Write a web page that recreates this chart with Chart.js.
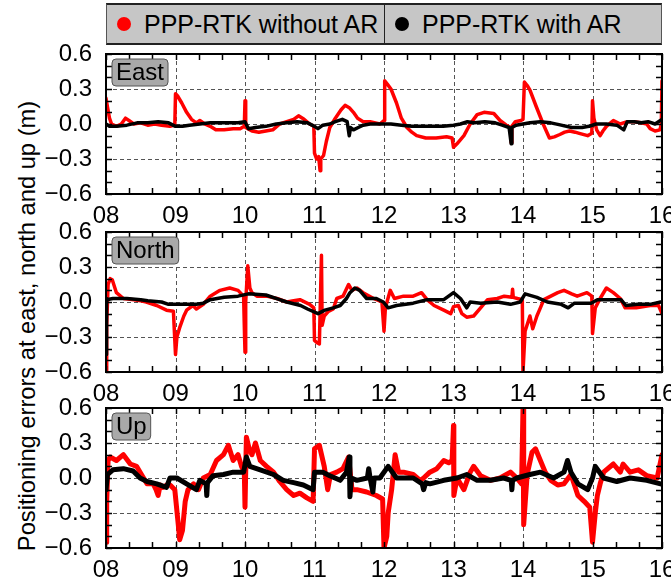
<!DOCTYPE html>
<html>
<head>
<meta charset="utf-8">
<script src="https://cdn.jsdelivr.net/npm/chart.js@4.4.1/dist/chart.umd.min.js"></script>
<style>
  body { margin: 0; width: 671px; height: 585px; overflow: hidden; position: relative; background: #fff;
         font-family: 'Liberation Sans', Arial, sans-serif; color: #000; }
  canvas { position: absolute; left: 0; }
  #legend { position: absolute; left: 106px; top: 3px; width: 556px; height: 42px; box-sizing: border-box;
            background: #c6c6c6; border: 1px solid #555; border-top: 2px solid #222; border-bottom: 2px solid #222;
            display: flex; font-size: 25px; }
  #legend .cell { display: flex; align-items: center; height: 100%; }
  #legend .first { width: 277px; border-right: 1.5px solid #222; }
  #legend .dot { display: inline-block; width: 14px; height: 14px; border-radius: 50%; margin: 0 13px 0 10px; }
  #ytitle { position: absolute; left: 27px; top: 326px; transform: translate(-50%, -50%) rotate(-90deg);
            white-space: nowrap; font-size: 23.7px; }
</style>
</head>
<body>
<div id="legend">
  <div class="cell first"><span class="dot" style="background:#ff0000"></span>PPP-RTK without AR</div>
  <div class="cell"><span class="dot" style="background:#000"></span>PPP-RTK with AR</div>
</div>
<div id="ytitle">Positioning errors at east, north and up (m)</div>
<canvas id="east" width="671" height="190" style="top:44px"></canvas>
<canvas id="north" width="671" height="190" style="top:220px"></canvas>
<canvas id="up" width="671" height="189" style="top:396px"></canvas>
<script>
// hours of day (x) and positioning error in metres (y)
const hourTicks = [8, 9, 10, 11, 12, 13, 14, 15, 16];
const errTicks = [-0.6, -0.3, 0.0, 0.3, 0.6];

const eastRed = [[8.00,0.22],[8.02,0.15],[8.05,0.05],[8.08,0.0],[8.15,-0.02],[8.22,0.0],[8.28,0.05],[8.33,0.03],[8.40,0.0],[8.50,0.01],[8.60,-0.01],[8.70,0.0],[8.80,-0.01],[8.92,-0.02],[8.99,-0.01],
  [9.00,0.26],[9.03,0.24],[9.09,0.18],[9.16,0.10],[9.23,0.04],[9.30,0.01],[9.35,0.03],[9.42,0.0],[9.50,-0.02],[9.58,-0.05],[9.70,-0.05],[9.83,-0.04],[9.93,-0.04],[9.99,-0.02],
  [10.00,0.20],[10.01,-0.03],[10.10,-0.06],[10.20,-0.07],[10.30,-0.06],[10.40,-0.05],[10.50,0.0],[10.60,0.02],[10.70,0.04],[10.77,0.07],[10.85,0.04],[10.93,0.0],[10.99,-0.02],
  [11.00,-0.25],[11.03,-0.30],[11.06,-0.28],[11.08,-0.40],[11.09,-0.30],[11.13,-0.27],[11.17,-0.15],[11.22,-0.03],[11.30,0.05],[11.38,0.12],[11.44,0.16],[11.50,0.14],[11.56,0.10],[11.62,0.05],[11.70,0.02],[11.80,0.02],[11.94,0.0],
  [12.00,0.03],[12.01,0.37],[12.05,0.34],[12.10,0.30],[12.18,0.18],[12.25,0.05],[12.33,-0.03],[12.40,-0.07],[12.47,-0.10],[12.60,-0.12],[12.75,-0.12],[12.90,-0.11],[12.98,-0.12],
  [13.00,-0.20],[13.05,-0.17],[13.15,-0.10],[13.24,0.0],[13.34,0.08],[13.44,0.10],[13.58,0.09],[13.67,0.03],[13.76,-0.01],[13.82,-0.03],[13.83,-0.16],[13.84,-0.02],[13.89,0.02],[13.97,0.03],
  [14.00,0.04],[14.02,0.36],[14.06,0.33],[14.10,0.29],[14.19,0.15],[14.29,0.0],[14.38,-0.12],[14.45,-0.11],[14.53,-0.09],[14.60,-0.07],[14.67,-0.06],[14.75,-0.07],[14.81,-0.08],[14.93,-0.10],[14.99,-0.08],
  [15.00,0.20],[15.02,0.05],[15.06,-0.05],[15.11,-0.10],[15.15,-0.06],[15.20,-0.02],[15.30,0.03],[15.40,0.0],[15.50,0.02],[15.60,0.02],[15.70,0.01],[15.78,0.0],[15.83,-0.04],[15.90,-0.06],[15.97,-0.05],[15.99,0.0],[16.00,0.37]];

const eastBlack = [[8.00,0.0],[8.05,-0.02],[8.15,-0.02],[8.30,-0.01],[8.45,0.01],[8.60,0.01],[8.75,0.02],[8.90,0.01],[9.00,-0.02],[9.10,-0.02],[9.20,-0.01],[9.35,0.0],[9.50,0.01],[9.70,0.01],[9.90,0.01],
  [10.00,0.02],[10.05,-0.04],[10.15,-0.03],[10.30,-0.02],[10.45,0.0],[10.60,0.01],[10.75,0.02],[10.90,0.01],[11.00,-0.02],[11.05,-0.04],[11.12,-0.01],[11.22,0.0],[11.30,0.02],[11.40,0.04],[11.47,0.02],
  [11.50,-0.10],[11.52,-0.03],[11.56,-0.05],[11.63,-0.03],[11.70,-0.01],[11.80,0.0],[11.95,0.0],[12.10,0.0],[12.25,-0.01],[12.40,-0.02],[12.55,-0.02],[12.70,-0.02],[12.85,-0.02],
  [13.00,-0.01],[13.10,0.0],[13.20,0.02],[13.30,0.01],[13.45,0.02],[13.60,0.01],[13.70,-0.01],[13.80,-0.03],[13.83,-0.17],[13.84,-0.03],[13.90,-0.01],
  [14.00,0.0],[14.10,0.01],[14.25,0.02],[14.40,0.01],[14.55,-0.01],[14.70,-0.03],[14.85,-0.03],[14.95,-0.02],[15.05,0.0],[15.20,0.0],[15.35,-0.01],[15.45,-0.05],
  [15.50,0.02],[15.60,0.02],[15.70,0.01],[15.80,0.02],[15.90,0.0],[16.00,0.04]];

const northRed = [[8.00,-0.60],[8.01,-0.20],[8.03,0.15],[8.06,0.20],[8.09,0.19],[8.15,0.08],[8.25,0.03],[8.40,0.02],[8.50,0.01],[8.58,0.0],[8.73,-0.03],[8.87,-0.07],[8.97,-0.08],
  [9.00,-0.45],[9.02,-0.30],[9.06,-0.22],[9.12,-0.12],[9.16,-0.07],[9.25,-0.03],[9.30,-0.06],[9.40,-0.02],[9.50,0.05],[9.64,0.10],[9.78,0.12],[9.90,0.10],[9.98,0.05],
  [9.995,-0.32],[10.00,-0.43],[10.01,0.0],[10.04,0.31],[10.07,0.12],[10.10,0.08],[10.17,0.05],[10.31,0.05],[10.46,0.03],[10.60,0.0],[10.70,0.01],[10.79,0.02],[10.93,-0.02],[10.99,-0.05],
  [11.00,-0.33],[11.04,-0.35],[11.07,-0.36],[11.10,0.40],[11.11,-0.20],[11.14,-0.12],[11.20,-0.08],[11.27,-0.06],[11.32,0.03],[11.41,0.05],[11.49,0.15],[11.54,0.10],[11.61,0.12],[11.70,0.08],[11.85,0.03],[11.97,0.0],
  [12.00,-0.25],[12.02,-0.05],[12.09,0.10],[12.15,0.03],[12.28,0.05],[12.42,0.05],[12.54,0.08],[12.62,0.02],[12.72,-0.03],[12.86,-0.07],[12.96,-0.10],
  [13.00,-0.04],[13.07,-0.03],[13.12,-0.10],[13.19,-0.13],[13.29,-0.12],[13.39,-0.05],[13.49,0.02],[13.63,0.03],[13.73,0.05],[13.84,0.04],[13.85,0.11],[13.86,0.04],[13.92,0.03],[13.99,0.02],
  [14.00,-0.60],[14.03,-0.25],[14.10,-0.12],[14.14,-0.23],[14.20,-0.12],[14.25,-0.05],[14.30,0.02],[14.40,0.05],[14.50,0.08],[14.59,0.10],[14.70,0.07],[14.78,0.05],[14.92,0.08],[14.99,0.05],
  [15.00,-0.27],[15.04,-0.05],[15.11,0.03],[15.20,0.12],[15.30,0.08],[15.40,0.03],[15.47,-0.05],[15.63,-0.05],[15.83,-0.03],[15.95,-0.03],[16.00,-0.10]];

const northBlack = [[8.00,0.03],[8.005,-0.45],[8.01,0.02],[8.10,0.03],[8.30,0.03],[8.50,0.02],[8.60,0.01],[8.80,0.0],[8.90,-0.02],[9.10,-0.02],[9.30,-0.02],[9.40,-0.01],[9.50,0.02],[9.70,0.04],[9.90,0.05],
  [10.05,0.07],[10.30,0.06],[10.50,0.02],[10.60,0.0],[10.80,-0.03],[10.90,-0.06],[11.05,-0.10],[11.15,-0.07],[11.27,-0.05],[11.37,-0.03],[11.46,0.03],[11.51,0.08],[11.58,0.12],[11.65,0.10],[11.75,0.03],[11.89,0.03],[11.99,0.0],
  [12.06,-0.05],[12.18,-0.03],[12.42,-0.01],[12.62,0.02],[12.86,0.02],[13.00,0.08],[13.10,0.03],[13.19,-0.05],[13.24,0.0],[13.39,-0.01],[13.63,0.0],[13.82,-0.02],[13.96,0.0],
  [14.03,0.07],[14.20,0.04],[14.35,0.0],[14.55,-0.02],[14.65,-0.05],[14.74,-0.01],[14.98,-0.01],[15.07,0.02],[15.27,0.02],[15.41,0.02],[15.48,-0.03],[15.65,-0.02],[15.83,-0.02],[15.98,0.0]];

const upRed = [[8.00,-0.55],[8.01,-0.20],[8.03,0.15],[8.06,0.18],[8.15,0.15],[8.25,0.20],[8.35,0.12],[8.44,0.10],[8.51,0.03],[8.59,-0.05],[8.68,-0.05],[8.72,-0.10],[8.75,-0.15],[8.78,-0.06],[8.82,-0.08],[8.90,-0.05],[8.94,-0.07],[8.99,-0.10],
  [9.04,-0.40],[9.06,-0.53],[9.10,-0.45],[9.14,-0.20],[9.18,-0.10],[9.26,-0.05],[9.33,-0.10],[9.40,0.0],[9.50,0.03],[9.59,0.15],[9.69,0.20],[9.76,0.28],[9.83,0.15],[9.90,0.20],[9.95,0.10],[9.99,0.05],
  [10.00,-0.25],[10.02,0.35],[10.06,0.25],[10.10,0.20],[10.15,0.30],[10.22,0.15],[10.31,0.10],[10.41,0.05],[10.50,-0.03],[10.60,-0.10],[10.70,-0.15],[10.79,-0.13],[10.89,-0.17],[10.98,-0.20],
  [11.00,0.25],[11.07,0.28],[11.14,0.10],[11.19,-0.10],[11.23,0.03],[11.32,0.05],[11.41,0.08],[11.49,0.18],[11.54,-0.10],[11.61,-0.10],[11.75,-0.12],[11.89,-0.15],[11.98,-0.18],
  [12.00,-0.60],[12.04,-0.50],[12.06,-0.30],[12.11,-0.10],[12.16,0.20],[12.21,0.05],[12.28,0.05],[12.42,0.03],[12.52,-0.02],[12.57,0.0],[12.66,0.05],[12.76,0.08],[12.86,0.15],[12.93,0.13],[12.98,0.15],
  [13.00,0.45],[13.005,-0.15],[13.05,0.0],[13.15,-0.10],[13.24,0.05],[13.29,0.10],[13.39,0.02],[13.53,-0.02],[13.67,0.0],[13.82,0.05],[13.91,0.0],[13.98,-0.05],
  [14.00,0.60],[14.01,-0.40],[14.06,0.03],[14.13,0.22],[14.18,0.25],[14.25,0.15],[14.32,0.05],[14.40,-0.02],[14.50,-0.06],[14.59,-0.05],[14.69,0.03],[14.79,-0.15],[14.88,-0.20],[14.96,-0.25],
  [15.00,-0.55],[15.04,-0.30],[15.07,-0.15],[15.11,-0.05],[15.16,0.05],[15.30,0.12],[15.40,0.05],[15.44,0.12],[15.54,0.05],[15.66,0.07],[15.78,0.02],[15.93,0.0],[16.00,0.20]];

const upBlack = [[8.00,-0.10],[8.02,0.03],[8.10,0.07],[8.25,0.08],[8.39,0.06],[8.49,0.0],[8.59,-0.03],[8.73,-0.05],[8.87,-0.08],[8.92,0.0],[9.02,0.0],[9.16,-0.05],[9.30,-0.10],[9.35,-0.02],[9.44,-0.05],[9.45,-0.15],[9.46,-0.04],
  [9.54,0.02],[9.69,0.03],[9.83,0.05],[9.98,0.05],[10.02,0.18],[10.07,0.10],[10.22,0.07],[10.41,0.03],[10.55,-0.02],[10.70,-0.04],[10.84,-0.06],[10.98,-0.10],
  [11.00,0.05],[11.12,0.05],[11.22,0.02],[11.37,-0.02],[11.46,0.05],[11.50,0.18],[11.51,-0.16],[11.53,0.0],[11.61,-0.02],[11.76,0.0],[11.78,0.08],[11.80,0.0],[11.84,-0.12],[11.86,0.0],[11.94,0.0],
  [12.06,0.10],[12.18,0.0],[12.42,0.0],[12.55,-0.05],[12.57,-0.10],[12.60,-0.04],[12.66,-0.05],[12.86,-0.02],[13.05,0.0],[13.19,0.03],[13.34,-0.02],[13.53,-0.02],[13.72,0.0],[13.83,-0.02],[13.84,-0.10],[13.85,-0.02],[13.91,0.0],
  [14.10,0.03],[14.25,0.05],[14.44,0.0],[14.59,0.05],[14.64,0.15],[14.69,0.05],[14.79,-0.05],[14.93,-0.10],[15.00,0.0],[15.04,0.10],[15.16,0.0],[15.35,-0.03],[15.54,0.0],[15.78,-0.02],[15.98,-0.05]];

const FONT = "'Liberation Sans', Arial, sans-serif";
Chart.defaults.font.family = FONT;
Chart.defaults.font.size = 24;
Chart.defaults.color = '#000';

// dashed grid under the data; frame, inward ticks and panel tag on top
const frame = {
  id: 'frame',
  beforeDatasetsDraw(chart) {
    const { ctx, chartArea: a, scales: { x, y } } = chart;
    ctx.save();
    ctx.strokeStyle = '#555';
    ctx.lineWidth = 1;
    ctx.setLineDash([4, 3]);
    ctx.beginPath();
    hourTicks.forEach(t => {
      const px = Math.round(x.getPixelForValue(t)) + 0.5;
      ctx.moveTo(px, a.top); ctx.lineTo(px, a.bottom);
    });
    errTicks.forEach(v => {
      const py = Math.round(y.getPixelForValue(v)) + 0.5;
      ctx.moveTo(a.left, py); ctx.lineTo(a.right, py);
    });
    ctx.stroke();
    ctx.restore();
  },
  afterDatasetsDraw(chart, args, opts) {
    const { ctx, chartArea: a, scales: { x, y } } = chart;
    ctx.save();
    ctx.strokeStyle = '#000';
    ctx.lineWidth = 1.5;
    ctx.beginPath();
    for (let t = 8; t <= 16.001; t += 1 / 3) {
      const px = Math.round(x.getPixelForValue(t)) + 0.5;
      ctx.moveTo(px, a.top); ctx.lineTo(px, a.top + 6);
      ctx.moveTo(px, a.bottom); ctx.lineTo(px, a.bottom - 6);
    }
    for (let k = -6; k <= 6; k++) {
      const py = Math.round(y.getPixelForValue(k / 10)) + 0.5;
      ctx.moveTo(a.left, py); ctx.lineTo(a.left + 6, py);
      ctx.moveTo(a.right, py); ctx.lineTo(a.right - 6, py);
    }
    ctx.stroke();
    ctx.lineWidth = 2;
    ctx.strokeRect(a.left, a.top, a.right - a.left, a.bottom - a.top);

    ctx.font = '24px ' + FONT;
    const w = ctx.measureText(opts.text).width;
    const bx = a.left + 6, by = a.top + 5, bw = w + 8, bh = 27;
    ctx.beginPath();
    ctx.roundRect(bx, by, bw, bh, 4);
    ctx.fillStyle = '#a9a9a9';
    ctx.fill();
    ctx.lineWidth = 1;
    ctx.strokeStyle = '#555';
    ctx.stroke();
    ctx.fillStyle = '#000';
    ctx.textBaseline = 'middle';
    ctx.fillText(opts.text, bx + 4, by + bh / 2 + 1);
    ctx.restore();
  }
};

function toXY(pairs) {
  return pairs.map(([x, y]) => ({ x, y }));
}

function series(label, pairs, color, lw, order) {
  return { label, data: toXY(pairs), borderColor: color, backgroundColor: color, showLine: true,
           pointRadius: 0, borderWidth: lw, borderJoinStyle: 'round', borderCapStyle: 'round', order };
}

function panel(id, name, red, black, lw, padTop, xHeight) {
  new Chart(document.getElementById(id), {
    type: 'scatter',
    data: {
      datasets: [
        series('PPP-RTK with AR', black, '#000', lw, 0),
        series('PPP-RTK without AR', red, '#ff0000', lw, 1)
      ]
    },
    options: {
      responsive: false,
      animation: false,
      events: [],
      layout: { padding: { top: padTop, right: 9, left: 0, bottom: 0 } },
      plugins: { legend: { display: false }, tooltip: { enabled: false }, frame: { text: name } },
      scales: {
        x: {
          type: 'linear', min: 8, max: 16,
          afterBuildTicks: s => { s.ticks = hourTicks.map(v => ({ value: v })); },
          ticks: { padding: 8, maxRotation: 0, autoSkip: false,
                   callback: v => String(v).padStart(2, '0') },
          grid: { display: false, drawTicks: false },
          border: { display: false },
          afterFit: s => { s.height = xHeight; s.paddingLeft = 0; s.paddingRight = 0; }
        },
        y: {
          min: -0.6, max: 0.6,
          afterBuildTicks: s => { s.ticks = errTicks.map(v => ({ value: v })); },
          ticks: { padding: 14,
                   callback: v => { const s = Math.abs(v).toFixed(1); return v < -1e-9 ? '\u2212' + s : s; } },
          grid: { display: false, drawTicks: false },
          border: { display: false },
          afterFit: s => { s.width = 106; s.paddingTop = 0; s.paddingBottom = 0; }
        }
      }
    },
    plugins: [frame]
  });
}

panel('east', 'East', eastRed, eastBlack, 3.5, 10, 40);
panel('north', 'North', northRed, northBlack, 3.5, 12, 38);
panel('up', 'Up', upRed, upBlack, 5, 12, 37);
</script>
</body>
</html>
